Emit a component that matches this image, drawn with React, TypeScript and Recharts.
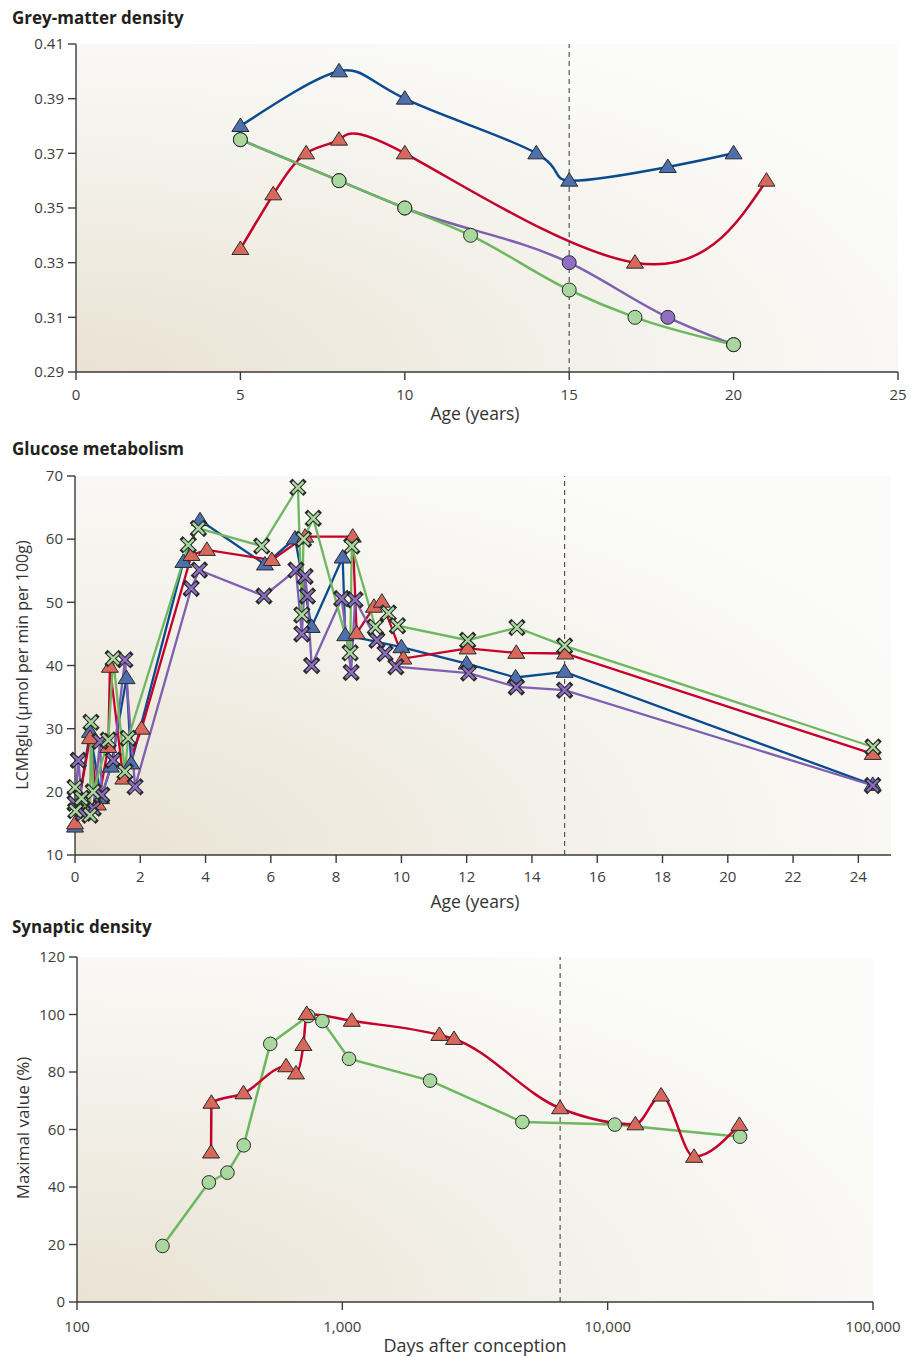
import { LineChart, Line, XAxis, YAxis, ReferenceLine, ReferenceArea } from "recharts";

// ---- Grey-matter density (age in years) ----
const gmBlueAge = [5, 8, 10, 14, 15, 18, 20];
const gmBlue = [0.38, 0.4, 0.39, 0.37, 0.36, 0.365, 0.37];
const gmRedAge = [5, 6, 7, 8, 10, 17, 21];
const gmRed = [0.335, 0.355, 0.37, 0.375, 0.37, 0.33, 0.36];
const gmPurpleAge = [5, 8, 10, 15, 18, 20];
const gmPurple = [0.375, 0.36, 0.35, 0.33, 0.31, 0.3];
const gmGreenAge = [5, 8, 10, 12, 15, 17, 20];
const gmGreen = [0.375, 0.36, 0.35, 0.34, 0.32, 0.31, 0.3];
const gmYTicks = [0.29, 0.31, 0.33, 0.35, 0.37, 0.39, 0.41];
const gmXTicks = [0, 5, 10, 15, 20, 25];

// ---- Glucose metabolism (age in years, LCMRglu) ----
const glBlueAge = [0, 0.46, 0.8, 1.1, 1.58, 1.72, 3.32, 3.83, 5.82, 6.74, 7.25, 8.2, 8.28, 10.0, 12.0, 13.5, 15.0, 24.44];
const glBlue = [14.5, 29.5, 19, 24, 38, 24.5, 56.4, 63, 56, 60.1, 46.1, 57.1, 44.8, 42.9, 40.3, 38.1, 39, 21.1];
const glRedAge = [0, 0.46, 0.7, 1.02, 1.07, 1.48, 2.04, 3.57, 4.04, 6.03, 7.05, 8.51, 8.63, 9.16, 9.4, 10.06, 12.03, 13.52, 15.02, 24.44];
const glRed = [15, 28.5, 18, 27.1, 39.8, 22.1, 30, 57.5, 58.3, 56.7, 60.4, 60.4, 45.1, 49.3, 50.1, 41.1, 42.7, 42, 41.9, 26];
const glGreenAge = [0, 0.02, 0.2, 0.46, 0.49, 0.56, 1.02, 1.17, 1.53, 1.63, 3.47, 3.78, 5.72, 6.83, 6.95, 7.0, 7.3, 8.43, 8.48, 9.2, 9.6, 9.88, 12.03, 13.54, 15.0, 24.45];
const glGreen = [20.7, 17, 19, 16.3, 31, 20, 28.2, 41.1, 23.2, 28.5, 59.1, 61.7, 58.9, 68.2, 48, 60, 63.3, 42, 58.9, 46.1, 48.3, 46.3, 44, 46, 43.1, 27.1];
const glPurpleAge = [0, 0.1, 0.25, 0.56, 0.77, 0.82, 1.17, 1.53, 1.84, 3.56, 3.81, 5.79, 6.77, 6.95, 7.05, 7.12, 7.25, 8.17, 8.46, 8.58, 9.25, 9.5, 9.83, 12.06, 13.52, 15.0, 24.44];
const glPurple = [18.2, 25, 16.6, 17.4, 28, 19.5, 25, 40.9, 20.8, 52.2, 55.1, 51, 55.1, 45, 54.1, 51, 40, 50.6, 38.9, 50.4, 44, 41.9, 39.8, 38.8, 36.6, 36.1, 21];
const glYTicks = [10, 20, 30, 40, 50, 60, 70];
const glXTicks = [0, 2, 4, 6, 8, 10, 12, 14, 16, 18, 20, 22, 24];

// ---- Synaptic density (days after conception, % of max) ----
const sdRedDays = [320, 321, 424, 614, 669, 713, 734, 1085, 2321, 2636, 6617, 12720, 15900, 21170, 31360];
const sdRed = [52, 69.3, 72.6, 82, 79.5, 89.4, 100.2, 97.8, 92.9, 91.5, 67.4, 61.8, 71.8, 50.5, 61.6];
const sdGreenDays = [210, 314, 369, 425, 535, 744, 841, 1060, 2141, 4770, 10640, 31550];
const sdGreen = [19.5, 41.6, 45, 54.5, 89.8, 99.5, 97.7, 84.6, 77, 62.6, 61.7, 57.5];
const sdYTicks = [0, 20, 40, 60, 80, 100, 120];
const sdXTicks = [100, 1000, 10000, 100000];

const zip = (xs: number[], ys: number[]) => xs.map((x, i) => ({ x, y: ys[i] }));

const C = {
  blueLine: "#0a4a8e",
  blueFill: "#4d6fae",
  redLine: "#c4002b",
  redFill: "#d8685b",
  greenLine: "#6db85e",
  greenFill: "#a8d89d",
  purpleLine: "#7f5fb0",
  purpleFill: "#8d6ec2",
  edge: "#2a2a2a",
  axis: "#3a3a3a",
  text: "#3c3c3c",
};

const tri = (fill: string) => (p: any) => {
  const { cx, cy, index } = p;
  if (cx == null || cy == null) return <g key={`t${index}`} />;
  return (
    <path
      key={`t${index}`}
      d={`M${cx},${cy - 8}L${cx + 8.5},${cy + 5.5}L${cx - 8.5},${cy + 5.5}Z`}
      fill={fill}
      stroke={C.edge}
      strokeWidth={1}
      strokeLinejoin="round"
    />
  );
};

const circ = (fill: string, r = 7) => (p: any) => {
  const { cx, cy, index } = p;
  if (cx == null || cy == null) return <g key={`c${index}`} />;
  return <circle key={`c${index}`} cx={cx} cy={cy} r={r} fill={fill} stroke={C.edge} strokeWidth={1} />;
};

const cross = (fill: string, s = 5.5) => (p: any) => {
  const { cx, cy, index } = p;
  if (cx == null || cy == null) return <g key={`x${index}`} />;
  const d = `M${cx - s},${cy - s}L${cx + s},${cy + s}M${cx - s},${cy + s}L${cx + s},${cy - s}`;
  return (
    <g key={`x${index}`}>
      <path d={d} stroke={C.edge} strokeWidth={4.6} strokeLinecap="square" fill="none" />
      <path d={d} stroke={fill} strokeWidth={2.4} fill="none" />
    </g>
  );
};

const tick = { fontSize: 15, fill: C.text };

function Bg({ id }: { id: string }) {
  return (
    <defs>
      <radialGradient id={id} cx="0" cy="1" r="1.15" gradientUnits="objectBoundingBox">
        <stop offset="0%" stopColor="#eae2d3" />
        <stop offset="55%" stopColor="#f3f1ea" />
        <stop offset="100%" stopColor="#fbfbf9" />
      </radialGradient>
    </defs>
  );
}

const abs = (left: number, top: number, extra: any = {}) => ({
  position: "absolute" as const,
  left,
  top,
  ...extra,
});

function Title({ text, top }: { text: string; top: number }) {
  return (
    <div style={abs(12, top, { fontWeight: 700, fontSize: 17, color: "#231f20", whiteSpace: "nowrap" })}>
      {text}
    </div>
  );
}

function XTitle({ text, cy, size = 17.5 }: { text: string; cy: number; size?: number }) {
  return (
    <div
      style={abs(475, cy, {
        transform: "translate(-50%, -50%)",
        fontSize: size,
        color: "#333",
        whiteSpace: "nowrap",
      })}
    >
      {text}
    </div>
  );
}

function YTitle({ text, cy, size = 16 }: { text: string; cy: number; size?: number }) {
  return (
    <div
      style={abs(22, cy, {
        transform: "translate(-50%, -50%) rotate(-90deg)",
        fontSize: size,
        color: "#333",
        whiteSpace: "nowrap",
      })}
    >
      {text}
    </div>
  );
}

function GreyMatter() {
  return (
    <LineChart width={920} height={430} margin={{ top: 44, right: 22, bottom: 18, left: 0 }}>
      <Bg id="bg1" />
      <XAxis
        type="number"
        dataKey="x"
        domain={[0, 25]}
        ticks={gmXTicks}
        stroke={C.axis}
        strokeWidth={1.4}
        tickSize={8}
        tickMargin={9}
        tick={tick}
        height={40}
      />
      <YAxis
        type="number"
        domain={[0.29, 0.41]}
        ticks={gmYTicks}
        tickFormatter={(v) => (v as number).toFixed(2)}
        stroke={C.axis}
        strokeWidth={1.4}
        tickSize={8}
        tickMargin={4}
        tick={tick}
        width={76}
      />
      <ReferenceArea x1={0} x2={25} y1={0.29} y2={0.41} fill="url(#bg1)" fillOpacity={1} stroke="none" />
      <ReferenceLine x={15} stroke="#555" strokeDasharray="5 4" strokeWidth={1.2} />
      <Line data={zip(gmBlueAge, gmBlue)} dataKey="y" type="natural" stroke={C.blueLine} strokeWidth={2.5} dot={tri(C.blueFill)} activeDot={false} isAnimationActive={false} />
      <Line data={zip(gmRedAge, gmRed)} dataKey="y" type="natural" stroke={C.redLine} strokeWidth={2.5} dot={tri(C.redFill)} activeDot={false} isAnimationActive={false} />
      <Line data={zip(gmPurpleAge, gmPurple)} dataKey="y" type="monotone" stroke={C.purpleLine} strokeWidth={2.5} dot={circ(C.purpleFill)} activeDot={false} isAnimationActive={false} />
      <Line data={zip(gmGreenAge, gmGreen)} dataKey="y" type="monotone" stroke={C.greenLine} strokeWidth={2.5} dot={circ(C.greenFill)} activeDot={false} isAnimationActive={false} />
    </LineChart>
  );
}

function Glucose() {
  return (
    <LineChart width={920} height={470} margin={{ top: 36, right: 29, bottom: 15, left: 0 }}>
      <Bg id="bg2" />
      <XAxis
        type="number"
        dataKey="x"
        domain={[0, 25]}
        ticks={glXTicks}
        stroke={C.axis}
        strokeWidth={1.4}
        tickSize={8}
        tickMargin={8}
        tick={tick}
        height={40}
      />
      <YAxis
        type="number"
        domain={[10, 70]}
        ticks={glYTicks}
        stroke={C.axis}
        strokeWidth={1.4}
        tickSize={8}
        tickMargin={4}
        tick={tick}
        width={75}
      />
      <ReferenceArea x1={0} x2={25} y1={10} y2={70} fill="url(#bg2)" fillOpacity={1} stroke="none" />
      <ReferenceLine x={15} stroke="#555" strokeDasharray="5 4" strokeWidth={1.2} />
      <Line data={zip(glBlueAge, glBlue)} dataKey="y" type="linear" stroke={C.blueLine} strokeWidth={2.3} dot={tri(C.blueFill)} activeDot={false} isAnimationActive={false} />
      <Line data={zip(glRedAge, glRed)} dataKey="y" type="linear" stroke={C.redLine} strokeWidth={2.3} dot={tri(C.redFill)} activeDot={false} isAnimationActive={false} />
      <Line data={zip(glPurpleAge, glPurple)} dataKey="y" type="linear" stroke={C.purpleLine} strokeWidth={2.3} dot={cross(C.purpleFill)} activeDot={false} isAnimationActive={false} />
      <Line data={zip(glGreenAge, glGreen)} dataKey="y" type="linear" stroke={C.greenLine} strokeWidth={2.3} dot={cross(C.greenFill)} activeDot={false} isAnimationActive={false} />
    </LineChart>
  );
}

function Synaptic() {
  return (
    <LineChart width={920} height={427} margin={{ top: 27, right: 47, bottom: 15, left: 0 }}>
      <Bg id="bg3" />
      <XAxis
        type="number"
        dataKey="x"
        scale="log"
        domain={[100, 100000]}
        ticks={sdXTicks}
        tickFormatter={(v) => (v as number).toLocaleString("en-US")}
        stroke={C.axis}
        strokeWidth={1.4}
        tickSize={8}
        tickMargin={11}
        tick={tick}
        height={40}
      />
      <YAxis
        type="number"
        domain={[0, 120]}
        ticks={sdYTicks}
        stroke={C.axis}
        strokeWidth={1.4}
        tickSize={8}
        tickMargin={4}
        tick={tick}
        width={77}
      />
      <ReferenceArea x1={100} x2={100000} y1={0} y2={120} fill="url(#bg3)" fillOpacity={1} stroke="none" />
      <ReferenceLine x={6620} stroke="#555" strokeDasharray="5 4" strokeWidth={1.2} />
      <Line data={zip(sdGreenDays, sdGreen)} dataKey="y" type="linear" stroke={C.greenLine} strokeWidth={2.5} dot={circ(C.greenFill, 6.8)} activeDot={false} isAnimationActive={false} />
      <Line data={zip(sdRedDays, sdRed)} dataKey="y" type="monotone" stroke={C.redLine} strokeWidth={2.5} dot={tri(C.redFill)} activeDot={false} isAnimationActive={false} />
    </LineChart>
  );
}

export default function App() {
  return (
    <div
      style={{
        position: "absolute",
        left: 0,
        top: 0,
        width: 920,
        height: 1357,
        background: "#fff",
        fontFamily: "'Open Sans', 'Noto Sans', sans-serif",
        overflow: "hidden",
      }}
    >
      <div style={abs(0, 0)}>
        <GreyMatter />
      </div>
      <Title text="Grey-matter density" top={6} />
      <XTitle text="Age (years)" cy={413} />

      <div style={abs(0, 440)}>
        <Glucose />
      </div>
      <Title text="Glucose metabolism" top={437} />
      <YTitle text="LCMRglu (µmol per min per 100g)" cy={665} size={16} />
      <XTitle text="Age (years)" cy={901} />

      <div style={abs(0, 930)}>
        <Synaptic />
      </div>
      <Title text="Synaptic density" top={915} />
      <YTitle text="Maximal value (%)" cy={1128} size={17} />
      <XTitle text="Days after conception" cy={1345} size={18} />
    </div>
  );
}
